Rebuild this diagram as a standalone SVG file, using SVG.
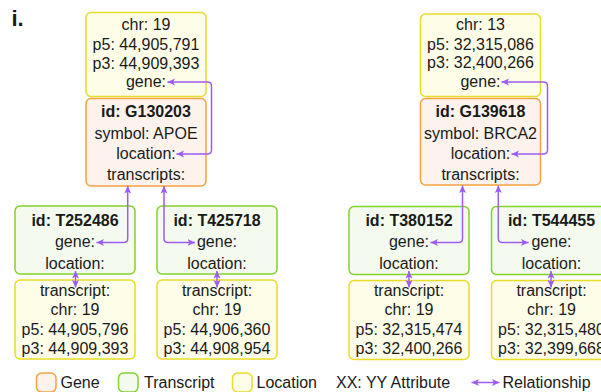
<svg xmlns="http://www.w3.org/2000/svg" width="601" height="392" viewBox="0 0 601 392">
<style>
text{font-family:"Liberation Sans",Arial,sans-serif;font-size:16px;fill:#1a1a1a;text-anchor:middle}
.b{font-weight:bold}
.loc{fill:#fefde8;stroke:#e8dc2a;stroke-width:1.5}
.gene{fill:#fdf3ec;stroke:#f5a243;stroke-width:1.5}
.tr{fill:#f4fbee;stroke:#84d12e;stroke-width:1.5}
.c{fill:none;stroke:#9d5cf7;stroke-width:1.5;marker-start:url(#ah);marker-end:url(#ah)}
.lg{text-anchor:start}
</style>
<defs>
<marker id="ah" viewBox="0 0 8 8" refX="7.5" refY="4" markerWidth="8" markerHeight="8" markerUnits="userSpaceOnUse" orient="auto-start-reverse">
<path d="M0,0.5 L7.5,4 L0,7.5 L1.8,4 Z" fill="#9d5cf7"/>
</marker>
</defs>
<text x="11.5" y="26" class="b lg" style="font-size:22px">i.</text>

<g id="loc-G130203">
<rect class="loc" x="86" y="12.5" width="120" height="84" rx="5"/>
<text x="146" y="30">chr: 19</text>
<text x="146" y="49.5">p5: 44,905,791</text>
<text x="146" y="68.5">p3: 44,909,393</text>
<text x="146" y="87">gene:</text>
</g>
<g id="gene-G130203">
<rect class="gene" x="86" y="98.5" width="120" height="87.5" rx="5"/>
<text x="146" y="117" class="b">id: G130203</text>
<text x="146" y="138.5">symbol: APOE</text>
<text x="146" y="159">location:</text>
<text x="146" y="180">transcripts:</text>
</g>
<g id="tr-T252486">
<rect class="tr" x="15" y="206" width="120" height="68" rx="5"/>
<text x="75" y="226" class="b">id: T252486</text>
<text x="75" y="247">gene:</text>
<text x="75" y="268.5">location:</text>
</g>
<g id="loc-T252486">
<rect class="loc" x="15" y="280" width="120" height="79" rx="5"/>
<text x="75" y="296">transcript:</text>
<text x="75" y="315">chr: 19</text>
<text x="75" y="335">p5: 44,905,796</text>
<text x="75" y="354">p3: 44,909,393</text>
</g>
<g id="tr-T425718">
<rect class="tr" x="157" y="206" width="120" height="68" rx="5"/>
<text x="217" y="226" class="b">id: T425718</text>
<text x="217" y="247">gene:</text>
<text x="217" y="268.5">location:</text>
</g>
<g id="loc-T425718">
<rect class="loc" x="157" y="280" width="120" height="79" rx="5"/>
<text x="217" y="296">transcript:</text>
<text x="217" y="315">chr: 19</text>
<text x="217" y="335">p5: 44,906,360</text>
<text x="217" y="354">p3: 44,908,954</text>
</g>

<g id="loc-G139618">
<rect class="loc" x="420.5" y="14" width="120" height="82.5" rx="5"/>
<text x="480.5" y="29.5">chr: 13</text>
<text x="480.5" y="49.5">p5: 32,315,086</text>
<text x="480.5" y="68">p3: 32,400,266</text>
<text x="480.5" y="87">gene:</text>
</g>
<g id="gene-G139618">
<rect class="gene" x="420.5" y="98.5" width="120" height="86.5" rx="5"/>
<text x="480.5" y="117" class="b">id: G139618</text>
<text x="480.5" y="138.5">symbol: BRCA2</text>
<text x="480.5" y="159">location:</text>
<text x="480.5" y="180">transcripts:</text>
</g>
<g id="tr-T380152">
<rect class="tr" x="349" y="206.5" width="120" height="68" rx="5"/>
<text x="409" y="226" class="b">id: T380152</text>
<text x="409" y="247">gene:</text>
<text x="409" y="268.5">location:</text>
</g>
<g id="loc-T380152">
<rect class="loc" x="349" y="280.5" width="120" height="79" rx="5"/>
<text x="409" y="296">transcript:</text>
<text x="409" y="315">chr: 19</text>
<text x="409" y="335">p5: 32,315,474</text>
<text x="409" y="354">p3: 32,400,266</text>
</g>
<g id="tr-T544455">
<rect class="tr" x="491.5" y="206.5" width="120" height="68" rx="5"/>
<text x="551.5" y="226" class="b">id: T544455</text>
<text x="551.5" y="247">gene:</text>
<text x="551.5" y="268.5">location:</text>
</g>
<g id="loc-T544455">
<rect class="loc" x="491.5" y="280.5" width="120" height="79" rx="5"/>
<text x="551.5" y="296">transcript:</text>
<text x="551.5" y="315">chr: 19</text>
<text x="551.5" y="335">p5: 32,315,480</text>
<text x="551.5" y="354">p3: 32,399,668</text>
</g>

<g id="connectors">
<path class="c" d="M176.5,154 H207.5 Q211.5,154 211.5,150 V86 Q211.5,82 207.5,82 H167.5"/>
<path class="c" d="M127.7,186 V238.5 Q127.7,242.5 123.7,242.5 H96.5"/>
<path class="c" d="M164,186 V238.5 Q164,242.5 168,242.5 H195"/>
<path class="c" d="M75.5,271 V287.5"/>
<path class="c" d="M217,271 V287.5"/>
<path class="c" d="M511.5,154 H543.5 Q547.5,154 547.5,150 V86 Q547.5,82 543.5,82 H501.5"/>
<path class="c" d="M462.5,185.5 V238.5 Q462.5,242.5 458.5,242.5 H430.5"/>
<path class="c" d="M498.3,185.5 V238.5 Q498.3,242.5 502.3,242.5 H528.5"/>
<path class="c" d="M409,271 V287.5"/>
<path class="c" d="M551,271 V287.5"/>
</g>

<g id="legend">
<rect class="gene" x="36.5" y="373" width="19.5" height="19" rx="5"/>
<text x="60.5" y="388" class="lg">Gene</text>
<rect class="tr" x="118.5" y="373" width="19.5" height="19" rx="5"/>
<text x="144" y="388" class="lg">Transcript</text>
<rect class="loc" x="232.5" y="373" width="19.5" height="19" rx="5"/>
<text x="256.5" y="388" class="lg">Location</text>
<text x="336" y="388" class="lg">XX: YY Attribute</text>
<path class="c" d="M471.5,382.5 H499.5"/>
<text x="502.5" y="388" class="lg">Relationship</text>
</g>
</svg>
